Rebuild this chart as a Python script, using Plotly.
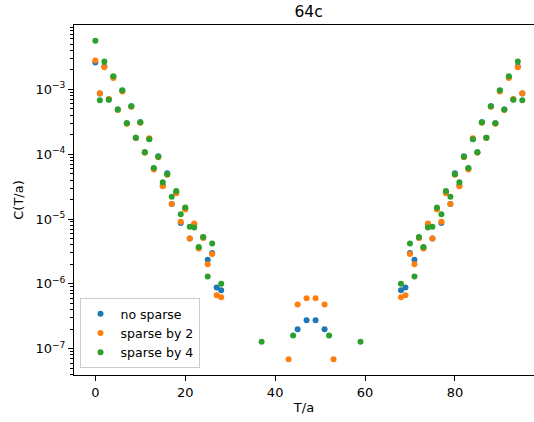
import plotly.graph_objects as go

N = None

T_values = list(range(96))

no_sparse = [
    2.6e-3, 8.6e-4, 2.25e-3, 7.0e-4, 1.55e-3, 4.9e-4, 9.5e-4, 3.0e-4,
    5.5e-4, 1.8e-4, 3.1e-4, 1.07e-4, 1.72e-4, 6.0e-5, 9.3e-5, 3.3e-5,
    5.1e-5, 1.7e-5, 2.6e-5, 8.7e-6, 1.45e-5, 5.0e-6, 8.3e-6, 3.6e-6,
    5.2e-6, 2.35e-6, 3.0e-6, 8.8e-7, 8.0e-7, N, N, N,
    N, N, N, N, N, N, N, N,
    N, N, N, N, N, 2.0e-7, N, 2.75e-7,
    N, 2.75e-7, N, 2.0e-7, N, N, N, N,
    N, N, N, N, N, N, N, N,
    N, N, N, N, 8.0e-7, 8.8e-7, 3.0e-6, 2.35e-6,
    5.2e-6, 3.6e-6, 8.3e-6, 5.0e-6, 1.45e-5, 8.7e-6, 2.6e-5, 1.7e-5,
    5.1e-5, 3.3e-5, 9.3e-5, 6.0e-5, 1.72e-4, 1.07e-4, 3.1e-4, 1.8e-4,
    5.5e-4, 3.0e-4, 9.5e-4, 4.9e-4, 1.55e-3, 7.0e-4, 2.25e-3, 8.6e-4,
]

sparse_by_2 = [
    2.8e-3, 8.7e-4, 2.2e-3, 7.1e-4, 1.5e-3, 4.8e-4, 9.3e-4, 2.95e-4,
    5.4e-4, 1.78e-4, 3.05e-4, 1.05e-4, 1.76e-4, 5.8e-5, 9.0e-5, 3.2e-5,
    4.8e-5, 1.7e-5, 2.5e-5, 9.1e-6, 1.4e-5, 5.0e-6, 8.5e-6, 3.5e-6,
    5.1e-6, 2.0e-6, 2.9e-6, 6.7e-7, 6.2e-7, N, N, N,
    N, N, N, N, N, N, N, N,
    N, N, N, 6.9e-8, N, 4.8e-7, N, 6.0e-7,
    N, 6.0e-7, N, 4.8e-7, N, 6.9e-8, N, N,
    N, N, N, N, N, N, N, N,
    N, N, N, N, 6.2e-7, 6.7e-7, 2.9e-6, 2.0e-6,
    5.1e-6, 3.5e-6, 8.5e-6, 5.0e-6, 1.4e-5, 9.1e-6, 2.5e-5, 1.7e-5,
    4.8e-5, 3.2e-5, 9.0e-5, 5.8e-5, 1.76e-4, 1.05e-4, 3.05e-4, 1.78e-4,
    5.4e-4, 2.95e-4, 9.3e-4, 4.8e-4, 1.5e-3, 7.1e-4, 2.2e-3, 8.7e-4,
]

sparse_by_4 = [
    5.6e-3, 6.8e-4, 2.7e-3, 6.9e-4, 1.6e-3, 4.9e-4, 9.7e-4, 3.0e-4,
    5.5e-4, 1.8e-4, 3.1e-4, 1.07e-4, 1.7e-4, 6.1e-5, 9.1e-5, 3.7e-5,
    4.9e-5, 2.2e-5, 2.7e-5, 1.18e-5, 1.5e-5, 7.6e-6, 7.4e-6, 3.7e-6,
    5.3e-6, 1.3e-6, 4.2e-6, N, 1.0e-6, N, N, N,
    N, N, N, N, N, 1.28e-7, N, N,
    N, N, N, N, 1.6e-7, N, N, N,
    N, N, N, N, 1.6e-7, N, N, N,
    N, N, N, 1.28e-7, N, N, N, N,
    N, N, N, N, 1.0e-6, N, 4.2e-6, 1.3e-6,
    5.3e-6, 3.7e-6, 7.4e-6, 7.6e-6, 1.5e-5, 1.18e-5, 2.7e-5, 2.2e-5,
    4.9e-5, 3.7e-5, 9.1e-5, 6.1e-5, 1.7e-4, 1.07e-4, 3.1e-4, 1.8e-4,
    5.5e-4, 3.0e-4, 9.7e-4, 4.9e-4, 1.6e-3, 6.9e-4, 2.7e-3, 6.8e-4,
]

series_names = ["no sparse", "sparse by 2", "sparse by 4"]
series_colors = ["#1f77b4", "#ff7f0e", "#2ca02c"]

y_major_vals = [1e-7, 1e-6, 1e-5, 1e-4, 1e-3]
y_major_text = ["10<sup>\u22127</sup>", "10<sup>\u22126</sup>", "10<sup>\u22125</sup>",
                "10<sup>\u22124</sup>", "10<sup>\u22123</sup>"]
x_tick_vals = [0, 20, 40, 60, 80]

minor_vals = [m * 10.0 ** e for e in range(-8, -1) for m in range(2, 10)]

FONT = "DejaVu Sans"

fig = go.Figure()
for name, color, vals in zip(series_names, series_colors, [no_sparse, sparse_by_2, sparse_by_4]):
    fig.add_trace(go.Scatter(
        x=T_values, y=vals, mode="markers", name=name,
        marker=dict(color=color, size=6),
    ))

fig.update_layout(
    width=534, height=422,
    margin=dict(l=74, r=0, t=25, b=47, autoexpand=False),
    paper_bgcolor="white", plot_bgcolor="white",
    font=dict(family=FONT, size=13, color="black"),
    showlegend=True,
    title=dict(text="64c", x=0.51, xref="paper", xanchor="center",
               y=1 - 12 / 422, yref="container", yanchor="middle",
               font=dict(family=FONT, size=15.5, color="black"),
               automargin=False),
    legend=dict(x=0.012, y=0.02, xanchor="left", yanchor="bottom",
                bgcolor="rgba(255,255,255,0.8)", bordercolor="#cccccc", borderwidth=1,
                font=dict(family=FONT, size=12.5, color="black"),
                itemwidth=30, tracegroupgap=0),
)

fig.update_xaxes(
    range=[-4.75, 97.6], automargin=False,
    tickmode="array", tickvals=x_tick_vals,
    ticks="outside", ticklen=5, tickwidth=1, tickcolor="black",
    showline=True, linecolor="black", linewidth=1, mirror=True,
    showgrid=False, zeroline=False,
    title=dict(text="T/a", font=dict(family=FONT, size=13, color="black"), standoff=4),
)
fig.update_yaxes(
    type="log", range=[-7.406, -2.007], automargin=False,
    tickmode="array", tickvals=y_major_vals, ticktext=y_major_text,
    ticks="outside", ticklen=5, tickwidth=1, tickcolor="black",
    minor=dict(tickmode="array", tickvals=minor_vals, ticks="outside",
               ticklen=3, tickwidth=0.8, tickcolor="black", showgrid=False),
    showline=True, linecolor="black", linewidth=1, mirror=False,
    showgrid=False, zeroline=False,
    title=dict(text="C(T/a)", font=dict(family=FONT, size=13, color="black"), standoff=8),
)

fig.write_html("out.html", config={"displayModeBar": False},
               post_script="document.body.style.margin='0';")
